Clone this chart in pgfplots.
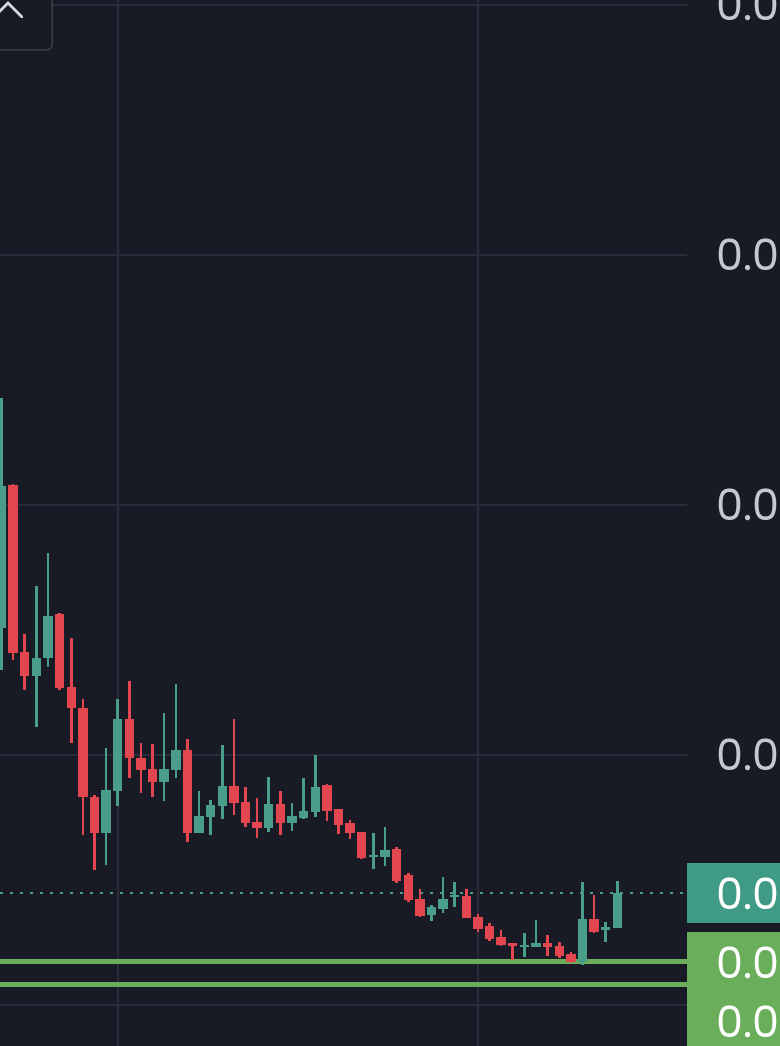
\documentclass[border=0pt]{standalone}
\usepackage{pgfplots}
\pgfplotsset{compat=1.18}
\usepackage{pgfplotstable}
\usepackage{fontspec}
\setmainfont{Poppins}
\definecolor{bg}{HTML}{181B26}
\definecolor{gridc}{HTML}{2A2D39}
\definecolor{upc}{HTML}{4A9D88}
\definecolor{dnc}{HTML}{E2464E}
\definecolor{lvl}{HTML}{6AAE5C}
\definecolor{tealbox}{HTML}{3F9A86}
\definecolor{lblc}{HTML}{C5C8CF}
\definecolor{boxc}{HTML}{3A3D48}
\definecolor{chev}{HTML}{D6D8DE}

% i open high low close  (price scale: gridlines at 0,250,500,750,1000)
\pgfplotstableread{
i O H L C
0 377 607 335 519
3 329 419 278 347
4 347 452 338 389
9 172 257 140 215
10 214 306 199 286
14 223 292 204 236
15 235 321 227 255
17 172 214 172 189
18 188 205 170 200
19 199 260 186 219
23 177 228 173 201
25 182 202 174 189
26 187 227 186 194
27 193 250 188 218
32 148 172 136 150
33 148 178 139 155
37 90 100 84 98
38 96 128 92 106
39 108 123 98 110
45 58 72 48 60
46 58 85 58 62
50 43 123 40 86
52 75 83 63 78
53 77 124 77 112
}\upcandles

\pgfplotstableread{
i O H L C
1 520 521 345 352
2 353 371 315 329
5 391 392 315 317
6 318 367 262 297
7 297 306 170 208
8 208 210 135 172
11 286 324 227 247
12 247 262 212 235
13 236 261 208 223
16 255 266 163 172
20 219 286 190 202
21 203 218 178 182
22 183 207 167 177
24 201 214 170 182
28 220 221 184 194
29 196 196 171 180
30 182 185 166 172
31 173 173 146 147
34 156 158 122 124
35 130 132 103 105
36 106 116 88 89
40 109 116 87 87
41 88 91 73 76
42 79 82 64 66
43 68 75 59 60
44 62 62 45 59
47 62 70 49 58
48 59 63 47 49
49 51 53 42 43
51 86 110 72 73
}\downcandles

\pgfplotsset{
  wick/.style={draw=none, mark=none, forget plot,
    error bars/.cd, y dir=both, y explicit, error mark=none,
    error bar style={draw=#1, line width=2.6pt}},
  body/.style={draw=none, mark=none, forget plot,
    error bars/.cd, y dir=both, y explicit, error mark=none,
    error bar style={draw=#1, line width=9.4pt}},
}

\begin{document}
\begin{tikzpicture}[x=1pt,y=1pt]
\useasboundingbox (0,0) rectangle (779,1046);
\fill[bg] (-5,-5) rectangle (785,1051);
\begin{axis}[
  at={(0,0)}, anchor=south west,
  scale only axis, width=687pt, height=1046pt,
  xmin=-0.129, xmax=58.993, ymin=-41, ymax=1005,
  axis line style={draw=none},
  xtick={10,41}, ytick={0,250,500,750,1000},
  xticklabels={}, yticklabels={},
  major tick length=0pt,
  grid=major, major grid style={draw=gridc, line width=1.8pt},
]
\addplot[lvl, line width=5pt, forget plot] coordinates {(-2,43) (62,43)};
\addplot[lvl, line width=5pt, forget plot] coordinates {(-2,20) (62,20)};
\addplot[upc, line width=2.8pt, dash pattern=on 2.8pt off 7.2pt, forget plot] coordinates {(-0.129,112) (58.993,112)};

\addplot[wick=upc] table[x=i, y expr={(\thisrow{H}+\thisrow{L})/2}, y error expr={max((\thisrow{H}-\thisrow{L})/2,0.5)}] {\upcandles};
\addplot[body=upc] table[x=i, y expr={(\thisrow{O}+\thisrow{C})/2}, y error expr={max(abs(\thisrow{O}-\thisrow{C})/2,1.3)}] {\upcandles};
\addplot[wick=dnc] table[x=i, y expr={(\thisrow{H}+\thisrow{L})/2}, y error expr={max((\thisrow{H}-\thisrow{L})/2,0.5)}] {\downcandles};
\addplot[body=dnc] table[x=i, y expr={(\thisrow{O}+\thisrow{C})/2}, y error expr={max(abs(\thisrow{O}-\thisrow{C})/2,1.3)}] {\downcandles};
\end{axis}

% price scale labels
\fill[bg] (687,0) rectangle (785,1051);
\foreach \yy in {1041,791,541,291}{
  \node[anchor=west, inner sep=0pt, text=lblc, font=\fontsize{43}{43}\selectfont] at (716,\yy) {0.0};
}
\fill[tealbox] (687,123) rectangle (785,183);
\node[anchor=west, inner sep=0pt, text=white, font=\fontsize{43}{43}\selectfont] at (716,152) {0.0};
\fill[lvl] (687,-5) rectangle (785,114);
\node[anchor=west, inner sep=0pt, text=white, font=\fontsize{43}{43}\selectfont] at (716,83) {0.0};
\node[anchor=west, inner sep=0pt, text=white, font=\fontsize{43}{43}\selectfont] at (716,24) {0.0};

% top-left collapse button
\filldraw[fill=bg, draw=boxc, line width=1.5pt, rounded corners=5pt] (-10,996) rectangle (52,1060);
\draw[chev, line width=2.7pt, line cap=round, line join=miter] (-6,1029) -- (8,1043) -- (22,1029);
\end{tikzpicture}
\end{document}
